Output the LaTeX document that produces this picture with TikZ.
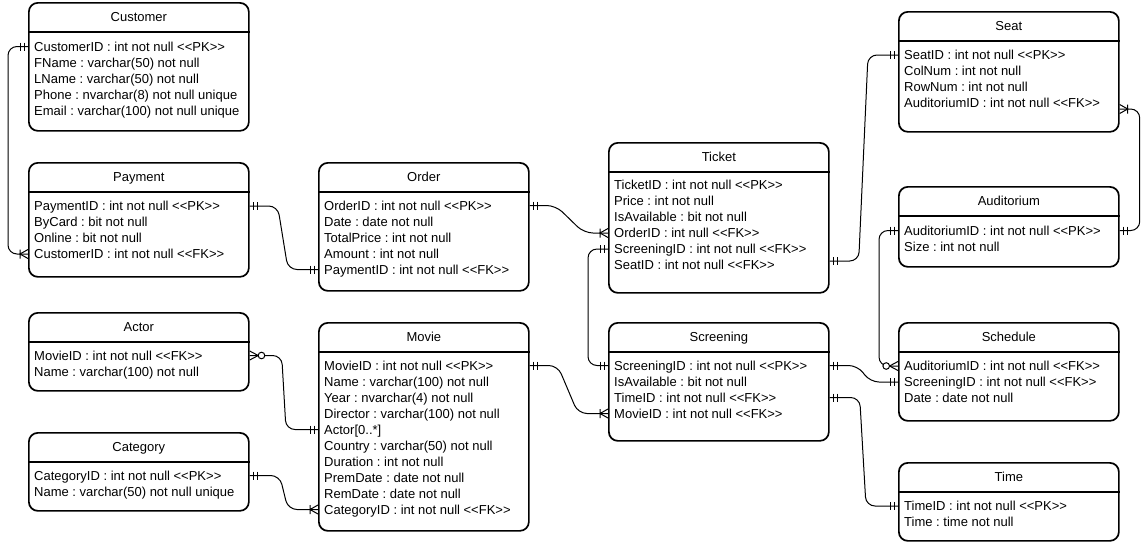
\documentclass[tikz,border=0pt]{standalone}
\usepackage{fontspec}
\setmainfont{Liberation Sans}
\usetikzlibrary{calc}
\frenchspacing
\newcommand\PK{<\kern0pt<PK>\kern0pt>}
\newcommand\FK{<\kern0pt<FK>\kern0pt>}
\tikzset{
  ebox/.style={draw=black, line width=1.7pt, rounded corners=9pt, inner sep=0pt},
  hline/.style={draw=black, line width=1.7pt},
  etitle/.style={font=\fontsize{13pt}{16pt}\selectfont, inner sep=0pt, text height=9.3pt, text depth=0pt},
  erow/.style={font=\fontsize{13pt}{16pt}\selectfont, anchor=west, inner xsep=6pt, inner ysep=0pt, text height=9.3pt, text depth=0pt},
  conn/.style={draw=black, line width=1pt, rounded corners=9pt},
  mk/.style={draw=black, line width=1pt}
}
\newcommand\entity[6]{%
  \node[ebox, minimum width=#4pt, minimum height=#5pt, anchor=north west] (#1) at (#2,#3) {};
  \draw[hline] ([yshift=-30pt]#1.north west) -- ([yshift=-30pt]#1.north east);
  \node[etitle] (#1-t) at ([yshift=-15pt]#1.north) {#6};
}
\newcommand\erow[4]{\node[erow] (#1) at (#2,#3) {#4};}
% marks: #1 = end point, #2 = outward direction (1 right, -1 left)
\newcommand\mOne[2]{\draw[mk, shift={(#1)}] (#2*4,-4) -- (#2*4,4) (#2*8,-4) -- (#2*8,4);}
\newcommand\mOneMany[2]{\draw[mk, shift={(#1)}] (0,-4.5) -- (#2*8,0) -- (0,4.5) (#2*8,-4.5) -- (#2*8,4.5);}
\newcommand\mZeroMany[2]{\draw[mk, shift={(#1)}] (0,-4.5) -- (#2*8.5,0) -- (0,4.5);
  \draw[mk, fill=white, shift={(#1)}] (#2*11.8,0) circle (3.3pt);}
\begin{document}
\begin{tikzpicture}[x=1pt, y=-1pt]
\useasboundingbox (0,0) rectangle (1148,542);
% ---------- entities ----------
\entity{customer}{28}{2}{220}{128}{Customer}
\erow{cu1}{28}{46.5}{CustomerID : int not null \PK}
\erow{cu2}{28}{62.5}{FName : varchar(50) not null}
\erow{cu3}{28}{78.5}{LName : varchar(50) not null}
\erow{cu4}{28}{94.5}{Phone : nvarchar(8) not null unique}
\erow{cu5}{28}{110.5}{Email : varchar(100) not null unique}

\entity{payment}{28}{162}{220}{114}{Payment}
\erow{pa1}{28}{206}{PaymentID : int not null \PK}
\erow{pa2}{28}{222}{ByCard : bit not null}
\erow{pa3}{28}{238}{Online : bit not null}
\erow{pa4}{28}{254}{CustomerID : int not null \FK}

\entity{order}{318}{162}{210}{128}{Order}
\erow{or1}{318}{205.5}{OrderID : int not null \PK}
\erow{or2}{318}{221.5}{Date : date not null}
\erow{or3}{318}{237.5}{TotalPrice : int not null}
\erow{or4}{318}{253.5}{Amount : int not null}
\erow{or5}{318}{269.5}{PaymentID : int not null \FK}

\entity{ticket}{608}{142}{220}{150}{Ticket}
\erow{ti1}{608}{185}{TicketID : int not null \PK}
\erow{ti2}{608}{201}{Price : int not null}
\erow{ti3}{608}{217}{IsAvailable : bit not null}
\erow{ti4}{608}{233}{OrderID : int null \FK}
\erow{ti5}{608}{249}{ScreeningID : int not null \FK}
\erow{ti6}{608}{265}{SeatID : int not null \FK}

\entity{seat}{898}{11}{220}{120}{Seat}
\erow{se1}{898}{55}{SeatID : int not null \PK}
\erow{se2}{898}{71}{ColNum : int not null}
\erow{se3}{898}{87}{RowNum : int not null}
\erow{se4}{898}{103}{AuditoriumID : int not null \FK}

\entity{auditorium}{898}{186}{220}{80}{Auditorium}
\erow{au1}{898}{230.5}{AuditoriumID : int not null \PK}
\erow{au2}{898}{246.5}{Size : int not null}

\entity{actor}{28}{312}{220}{78}{Actor}
\erow{ac1}{28}{355.5}{MovieID : int not null \FK}
\erow{ac2}{28}{371.5}{Name : varchar(100) not null}

\entity{category}{28}{432}{220}{78}{Category}
\erow{ca1}{28}{475.5}{CategoryID : int not null \PK}
\erow{ca2}{28}{491.5}{Name : varchar(50) not null unique}

\entity{movie}{318}{322}{210}{208}{Movie}
\erow{mo1}{318}{365.5}{MovieID : int not null \PK}
\erow{mo2}{318}{381.5}{Name : varchar(100) not null}
\erow{mo3}{318}{397.5}{Year : nvarchar(4) not null}
\erow{mo4}{318}{413.5}{Director : varchar(100) not null}
\erow{mo5}{318}{429.5}{Actor[0..*]}
\erow{mo6}{318}{445.5}{Country : varchar(50) not null}
\erow{mo7}{318}{461.5}{Duration : int not null}
\erow{mo8}{318}{477.5}{PremDate : date not null}
\erow{mo9}{318}{493.5}{RemDate : date not null}
\erow{mo10}{318}{509.5}{CategoryID : int not null \FK}

\entity{screening}{608}{322}{220}{118}{Screening}
\erow{sc1}{608}{365.5}{ScreeningID : int not null \PK}
\erow{sc2}{608}{381.5}{IsAvailable : bit not null}
\erow{sc3}{608}{397.5}{TimeID : int not null \FK}
\erow{sc4}{608}{413.5}{MovieID : int not null \FK}

\entity{schedule}{898}{322}{220}{98}{Schedule}
\erow{sh1}{898}{366}{AuditoriumID : int not null \FK}
\erow{sh2}{898}{382}{ScreeningID : int not null \FK}
\erow{sh3}{898}{398}{Date : date not null}

\entity{time}{898}{462}{220}{78}{Time}
\erow{tm1}{898}{506}{TimeID : int not null \PK}
\erow{tm2}{898}{522}{Time : time not null}

% ---------- connectors ----------
% Customer - Payment
\draw[conn] (cu1.west) -- ++(-20,0) |- (pa4.west);
\mOne{cu1.west}{-1}
\mOneMany{pa4.west}{-1}
% Payment - Order
\draw[conn] (pa1.west -| payment.east) -- ++(28,0) -- ([xshift=-30pt]or5.west) -- (or5.west);
\mOne{pa1.west -| payment.east}{1}
\mOne{or5.west}{-1}
% Order - Ticket
\draw[conn] (or1.west -| order.east) -- ++(26,0) -- ([xshift=-24pt]ti4.west) -- (ti4.west);
\mOne{or1.west -| order.east}{1}
\mOneMany{ti4.west}{-1}
% Ticket - Screening
\draw[conn] (ti5.west) -- ++(-20,0) |- (sc1.west);
\mOne{ti5.west}{-1}
\mOne{sc1.west}{-1}
% Movie - Screening
\draw[conn] (mo1.west -| movie.east) -- ++(28,0) -- ([xshift=-30pt]sc4.west) -- (sc4.west);
\mOne{mo1.west -| movie.east}{1}
\mOneMany{sc4.west}{-1}
% Actor - Movie
\draw[conn] (ac1.west -| actor.east) -- ++(32,0) -- ([xshift=-32pt]mo5.west) -- (mo5.west);
\mZeroMany{ac1.west -| actor.east}{1}
\mOne{mo5.west}{-1}
% Category - Movie
\draw[conn] (ca1.west -| category.east) -- ++(30,0) -- ([xshift=-30pt]mo10.west) -- (mo10.west);
\mOne{ca1.west -| category.east}{1}
\mOneMany{mo10.west}{-1}
% Ticket - Seat
\coordinate (tiS) at ($(ti6.west -| ticket.east)+(0,-4)$);
\draw[conn] (tiS) -- ++(29,0) -- ([xshift=-30pt]se1.west) -- (se1.west);
\mOne{tiS}{1}
\mOne{se1.west}{-1}
% Seat - Auditorium
\coordinate (seA) at ($(se4.west -| seat.east)+(0,6)$);
\draw[conn] (seA) -- ++(20,0) |- (au1.west -| auditorium.east);
\mOneMany{seA}{1}
\mOne{au1.west -| auditorium.east}{1}
% Auditorium - Schedule
\draw[conn] (au1.west) -- ++(-19,0) |- (sh1.west);
\mOne{au1.west}{-1}
\mZeroMany{sh1.west}{-1}
% Screening - Schedule
\draw[conn] (sc1.west -| screening.east) -- ++(28,0) -- ([xshift=-28pt]sh2.west) -- (sh2.west);
\mOne{sc1.west -| screening.east}{1}
\mOne{sh2.west}{-1}
% Screening - Time
\draw[conn] (sc3.west -| screening.east) -- ++(30,0) -- ([xshift=-32pt]tm1.west) -- (tm1.west);
\mOne{sc3.west -| screening.east}{1}
\mOne{tm1.west}{-1}
\end{tikzpicture}
\end{document}
